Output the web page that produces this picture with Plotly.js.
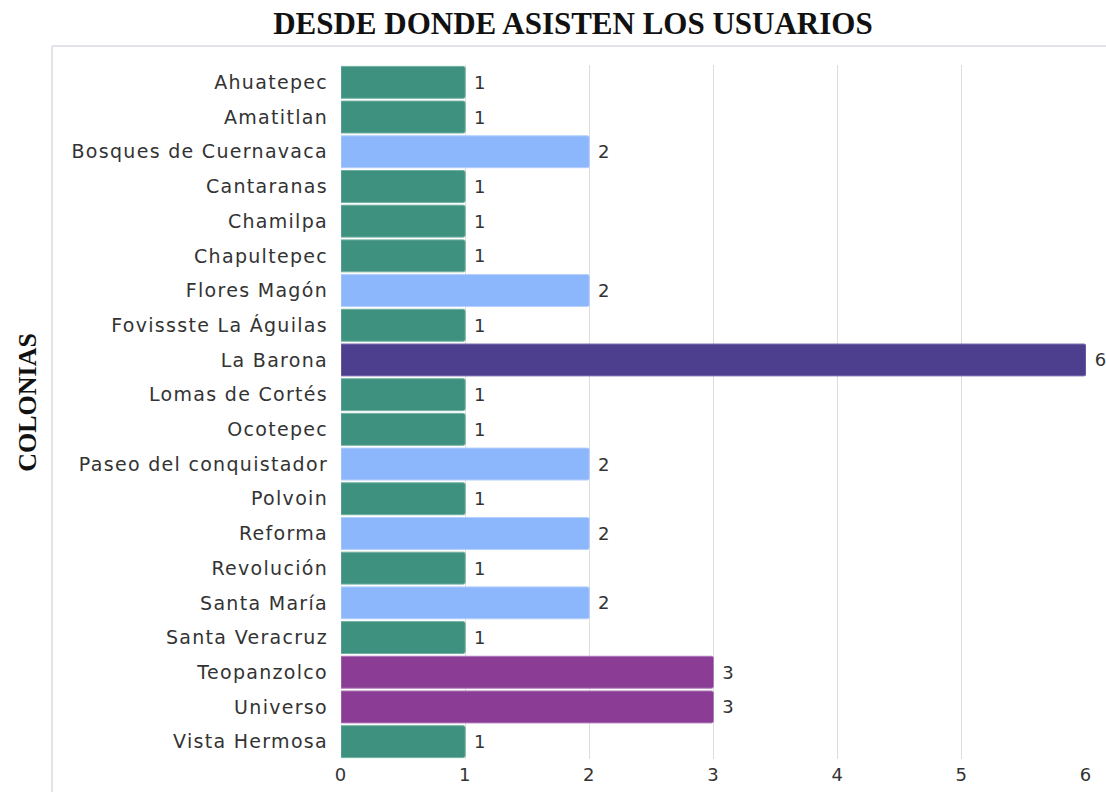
<!DOCTYPE html>
<html>
<head>
<meta charset="utf-8">
<script src="https://cdn.plot.ly/plotly-3.0.1.min.js"></script>
<style>
html,body{margin:0;padding:0;background:#fff;}
#chart{width:1106px;height:792px;}
#chart .ytick text{letter-spacing:1.3px;}
#chart .xtick text{letter-spacing:1px;}
</style>
</head>
<body>
<div id="chart"></div>
<script>
const colonias = ["Ahuatepec","Amatitlan","Bosques de Cuernavaca","Cantaranas","Chamilpa","Chapultepec","Flores Magón","Fovissste La Águilas","La Barona","Lomas de Cortés","Ocotepec","Paseo del conquistador","Polvoin","Reforma","Revolución","Santa María","Santa Veracruz","Teopanzolco","Universo","Vista Hermosa"];
const usuarios = [1,1,2,1,1,1,2,1,6,1,1,2,1,2,1,2,1,3,3,1];
const colorPorValor = {1:"#3f917f", 2:"#8db7fd", 3:"#8b3d95", 6:"#4d3f8e"};
const bordePorValor = {1:"#6fb0a2", 2:"#b3cffd", 3:"#b07ab8", 6:"#7f74b4"};
const xTicks = [0,1,2,3,4,5,6];

const trace = {
  type: "bar",
  orientation: "h",
  y: colonias,
  x: usuarios,
  text: usuarios.map(v => "\u00a0" + v),
  textposition: "outside",
  cliponaxis: false,
  textfont: {family: "DejaVu Sans", size: 18, color: "#333"},
  marker: {
    color: usuarios.map(v => colorPorValor[v]),
    line: {color: usuarios.map(v => bordePorValor[v]), width: 1}
  },
  hoverinfo: "none"
};

const layout = {
  width: 1106, height: 792,
  paper_bgcolor: "#fff", plot_bgcolor: "#fff",
  margin: {l: 341, r: 20, t: 65, b: 33},
  bargap: 0.08,
  barcornerradius: 2,
  showlegend: false,
  title: {
    text: "<b>DESDE DONDE ASISTEN LOS USUARIOS</b>",
    font: {family: "Liberation Serif", size: 31, color: "#111"},
    x: 0.518, xref: "container", xanchor: "center",
    y: 1 - 23/792, yref: "container", yanchor: "middle"
  },
  xaxis: {
    range: [0, 6],
    tickvals: xTicks,
    ticktext: xTicks.map(String),
    showgrid: true, gridcolor: "#dcdcdc", gridwidth: 1,
    zeroline: false, showline: false, ticks: "",
    tickfont: {family: "DejaVu Sans", size: 18, color: "#333"},
    ticklabelstandoff: 3
  },
  yaxis: {
    autorange: "reversed",
    type: "category",
    showgrid: false, zeroline: false, showline: false, ticks: "",
    tickfont: {family: "DejaVu Sans", size: 19, color: "#333"},
    ticklabelstandoff: 12
  },
  annotations: [{
    text: "<b>COLONIAS</b>",
    xref: "paper", yref: "paper",
    x: (28 - 341) / 745, y: (759.4 - 403) / 694.4,
    xanchor: "center", yanchor: "middle",
    textangle: -90, showarrow: false,
    font: {family: "Liberation Serif", size: 26, color: "#111"}
  }],
  shapes: [
    {type: "line", xref: "paper", yref: "paper", x0: (52-341)/745, x1: (52-341)/745, y0: (759.4-46)/694.4, y1: -0.1, line: {color: "#e3e4ea", width: 2}, layer: "below"},
    {type: "line", xref: "paper", yref: "paper", x0: (52-341)/745, x1: 1.05, y0: (759.4-46)/694.4, y1: (759.4-46)/694.4, line: {color: "#e3e4ea", width: 2}, layer: "below"}
  ]
};

Plotly.newPlot("chart", [trace], layout, {displayModeBar: false, staticPlot: true});
</script>
</body>
</html>
